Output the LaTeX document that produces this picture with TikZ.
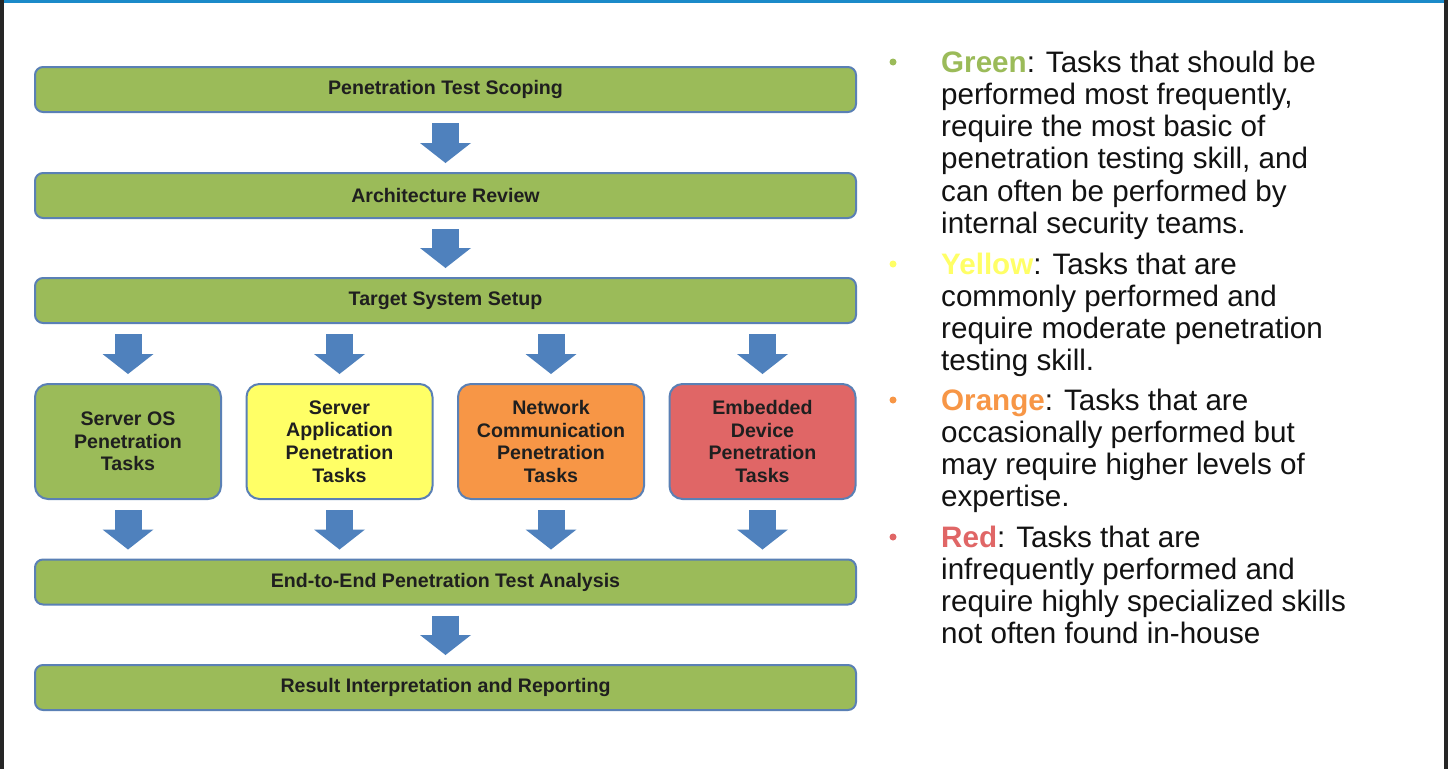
\documentclass[tikz,border=0pt]{standalone}
\usepackage{fontspec}
\setmainfont{Liberation Sans}
\usepackage{xcolor}
\usetikzlibrary{arrows.meta}

\definecolor{boxgreen}{HTML}{9BBB59}
\definecolor{boxyellow}{HTML}{FFFF66}
\definecolor{boxorange}{HTML}{F79646}
\definecolor{boxred}{HTML}{E06666}
\definecolor{boxline}{HTML}{5A80B5}
\definecolor{arrowblue}{HTML}{4F81BD}
\definecolor{topline}{HTML}{1B8AC9}
\definecolor{sideframe}{HTML}{262626}

\tikzset{
    stage/.style={draw=boxline, line width=2pt, fill=boxgreen, rounded corners=8pt,
        minimum width=821pt, minimum height=45pt, inner sep=0pt,
        font=\fontsize{19.6}{22.6}\selectfont\bfseries, text=black!88},
    task/.style={draw=boxline, line width=2pt, rounded corners=13pt,
        minimum width=186pt, minimum height=115pt, inner sep=0pt, align=center,
        font=\fontsize{19.6}{22.6}\selectfont\bfseries, text=black!88},
    flow/.style={draw=arrowblue, line width=27pt,
        -{Triangle[width=51pt,length=20pt,line width=0pt]},
        shorten <=10pt, shorten >=9pt},
    dotmark/.style={circle, inner sep=0pt, minimum size=7pt},
    legend/.style={anchor=base west, inner sep=0pt,
        font=\fontsize{29.6}{32.3}\selectfont, text=black!93}
}

\begin{document}
\begin{tikzpicture}[x=1pt, y=-1pt]
    \useasboundingbox (0,0) rectangle (1448,769);
    \fill[white] (0,0) rectangle (1448,769);
    \fill[sideframe] (0,0) rectangle (4,769);
    \fill[sideframe] (1444,0) rectangle (1448,769);
    \fill[topline] (4,0) rectangle (1444,2.5);

    % flow of stages
    \node [stage] (scoping) at (445.5,89.5) {Penetration Test Scoping};
    \node [stage] (review) at (445.5,195.5) {Architecture Review};
    \node [stage] (setup) at (445.5,300.5) {Target System Setup};
    \node [task, fill=boxgreen] (serveros) at (128,441.5) {Server OS\\Penetration\\Tasks};
    \node [task, fill=boxyellow] (serverapp) at (339.5,441.5) {Server\\Application\\Penetration\\Tasks};
    \node [task, fill=boxorange] (netcomm) at (551,441.5) {Network\\Communication\\Penetration\\Tasks};
    \node [task, fill=boxred] (embedded) at (762.5,441.5) {Embedded\\Device\\Penetration\\Tasks};
    \node [stage] (analysis) at (445.5,582) {End-to-End Penetration Test Analysis};
    \node [stage] (reporting) at (445.5,687.5) {Result Interpretation and Reporting};

    \draw [flow] (scoping) -- (review);
    \draw [flow] (review) -- (setup);
    \foreach \t in {serveros, serverapp, netcomm, embedded}{
        \draw [flow] (setup.south -| \t.north) -- (\t.north);
        \draw [flow] (\t.south) -- (analysis.north -| \t.south);
    }
    \draw [flow] (analysis) -- (reporting);

    % legend
    \node [dotmark, fill=boxgreen] (greendot) at (893,62) {};
    \node [dotmark, fill=boxyellow] (yellowdot) at (893,264) {};
    \node [dotmark, fill=boxorange] (orangedot) at (893,400) {};
    \node [dotmark, fill=boxred] (reddot) at (893,537) {};

    \node [legend] (greentext) at (941,72) {\vtop{%
        \hbox{\textbf{\color{boxgreen}Green}: Tasks that should be}
        \hbox{performed most frequently,}
        \hbox{require the most basic of}
        \hbox{penetration testing skill, and}
        \hbox{can often be performed by}
        \hbox{internal security teams.}}};
    \node [legend] (yellowtext) at (941,274) {\vtop{%
        \hbox{\textbf{\color{boxyellow}Yellow}: Tasks that are}
        \hbox{commonly performed and}
        \hbox{require moderate penetration}
        \hbox{testing skill.}}};
    \node [legend] (orangetext) at (941,410) {\vtop{%
        \hbox{\textbf{\color{boxorange}Orange}: Tasks that are}
        \hbox{occasionally performed but}
        \hbox{may require higher levels of}
        \hbox{expertise.}}};
    \node [legend] (redtext) at (941,547) {\vtop{%
        \hbox{\textbf{\color{boxred}Red}: Tasks that are}
        \hbox{infrequently performed and}
        \hbox{require highly specialized skills}
        \hbox{not often found in-house}}};

\end{tikzpicture}
\end{document}
